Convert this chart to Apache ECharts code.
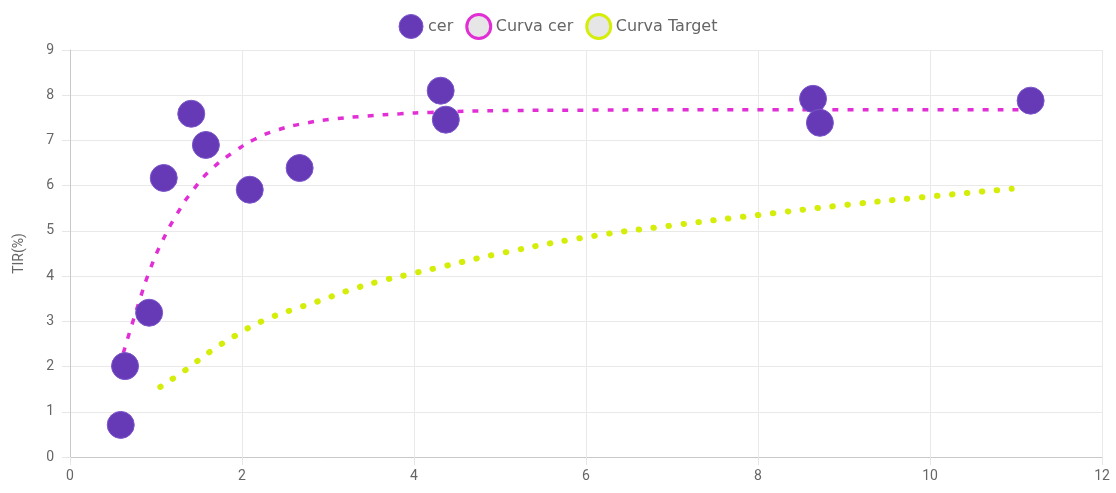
<!DOCTYPE html>
<html lang="es">
<head>
    <meta charset="UTF-8">
    <title>TIR cer</title>
    <script src="https://cdn.jsdelivr.net/npm/echarts@6/dist/echarts.min.js"></script>
    <style>
        html, body { margin: 0; padding: 0; background: #fff; }
        #chart { width: 1116px; height: 493px; }
    </style>
</head>
<body>
<div id="chart"></div>
<script>
    // puntos cer (x, TIR)
    var cerX = [0.59, 0.64, 0.92, 1.09, 1.41, 1.58, 2.09, 2.67, 4.31, 4.37, 8.64, 8.72, 11.17];
    var cerY = [0.71, 2.01, 3.19, 6.17, 7.59, 6.90, 5.91, 6.39, 8.10, 7.46, 7.92, 7.39, 7.88];

    // curva ajustada cer
    var curvaCerX = [0.62, 0.81, 0.93, 1.07, 1.24, 1.43, 1.66, 1.94, 2.13, 2.41, 2.76, 3.10, 3.45, 3.84, 4.19, 5.0, 6.0, 7.0, 8.0, 9.0, 10.0, 11.05];
    var curvaCerY = [2.30, 3.47, 4.14, 4.76, 5.36, 5.90, 6.39, 6.79, 7.01, 7.23, 7.39, 7.48, 7.54, 7.59, 7.62, 7.66, 7.67, 7.68, 7.68, 7.68, 7.68, 7.68];

    // curva target
    var targetX = [1.05, 1.34, 1.63, 1.92, 2.23, 2.56, 2.88, 3.22, 3.57, 3.90, 4.24, 5.0, 6.0, 7.0, 8.0, 9.0, 10.0, 10.95];
    var targetY = [1.55, 1.92, 2.33, 2.68, 3.00, 3.24, 3.44, 3.67, 3.87, 4.02, 4.17, 4.50, 4.86, 5.12, 5.35, 5.57, 5.76, 5.93];

    var xTicks = { min: 0, max: 12, interval: 2 };
    var yTicks = { min: 0, max: 9, interval: 1 };

    var purple = '#6639b7';
    var magenta = '#e22fd5';
    var lime = '#d4ee0a';

    function pares(xs, ys) {
        var out = [];
        for (var i = 0; i < xs.length; i++) out.push([xs[i], ys[i]]);
        return out;
    }

    var chart = echarts.init(document.getElementById('chart'));
    var option = {
        animation: false,
        textStyle: { fontFamily: '"DejaVu Sans", sans-serif' },
        legend: {
            top: 8,
            left: 'center',
            itemWidth: 24,
            itemHeight: 24,
            itemGap: 12,
            textStyle: { color: '#666', fontSize: 16, fontFamily: '"DejaVu Sans", sans-serif' },
            data: [
                { name: 'cer', icon: 'circle', itemStyle: { color: purple, borderColor: '#7b55c9', borderWidth: 1 } },
                { name: 'Curva cer', icon: 'circle', itemStyle: { color: '#e6e6e6', borderColor: magenta, borderWidth: 3 } },
                { name: 'Curva Target', icon: 'circle', itemStyle: { color: '#e6e6e6', borderColor: lime, borderWidth: 3 } }
            ]
        },
        grid: { left: 70, right: 14, top: 50, bottom: 36 },
        xAxis: {
            type: 'value',
            min: xTicks.min, max: xTicks.max, interval: xTicks.interval,
            axisLine: { show: true, lineStyle: { color: '#c8c8c8' } },
            axisTick: { show: true, length: 8, lineStyle: { color: '#e6e6e6' } },
            axisLabel: { color: '#666', fontSize: 14, margin: 12, fontFamily: 'Roboto, sans-serif' },
            splitLine: { show: true, lineStyle: { color: '#e9e9e9' } }
        },
        yAxis: {
            type: 'value',
            min: yTicks.min, max: yTicks.max, interval: yTicks.interval,
            name: 'TIR(%)',
            nameLocation: 'middle',
            nameGap: 44,
            nameTextStyle: { color: '#666', fontSize: 14, fontFamily: 'Roboto, sans-serif' },
            axisLine: { show: true, lineStyle: { color: '#c8c8c8' } },
            axisTick: { show: true, length: 8, lineStyle: { color: '#e6e6e6' } },
            axisLabel: { color: '#666', fontSize: 14, margin: 16, fontFamily: 'Roboto, sans-serif' },
            splitLine: { show: true, lineStyle: { color: '#e9e9e9' } }
        },
        series: [
            {
                name: 'Curva Target',
                type: 'line',
                smooth: true,
                showSymbol: false,
                itemStyle: { color: lime },
                lineStyle: { color: lime, width: 6, type: [0.5, 14.5], cap: 'round' },
                data: pares(targetX, targetY),
                z: 2
            },
            {
                name: 'Curva cer',
                type: 'line',
                smooth: true,
                showSymbol: false,
                itemStyle: { color: magenta },
                lineStyle: { color: magenta, width: 3.5, type: [6, 9] },
                data: pares(curvaCerX, curvaCerY),
                z: 3
            },
            {
                name: 'cer',
                type: 'scatter',
                symbolSize: 27,
                itemStyle: { color: purple, borderColor: '#7b55c9', borderWidth: 1, opacity: 1 },
                data: pares(cerX, cerY),
                z: 4
            }
        ]
    };
    chart.setOption(option);
</script>
</body>
</html>
